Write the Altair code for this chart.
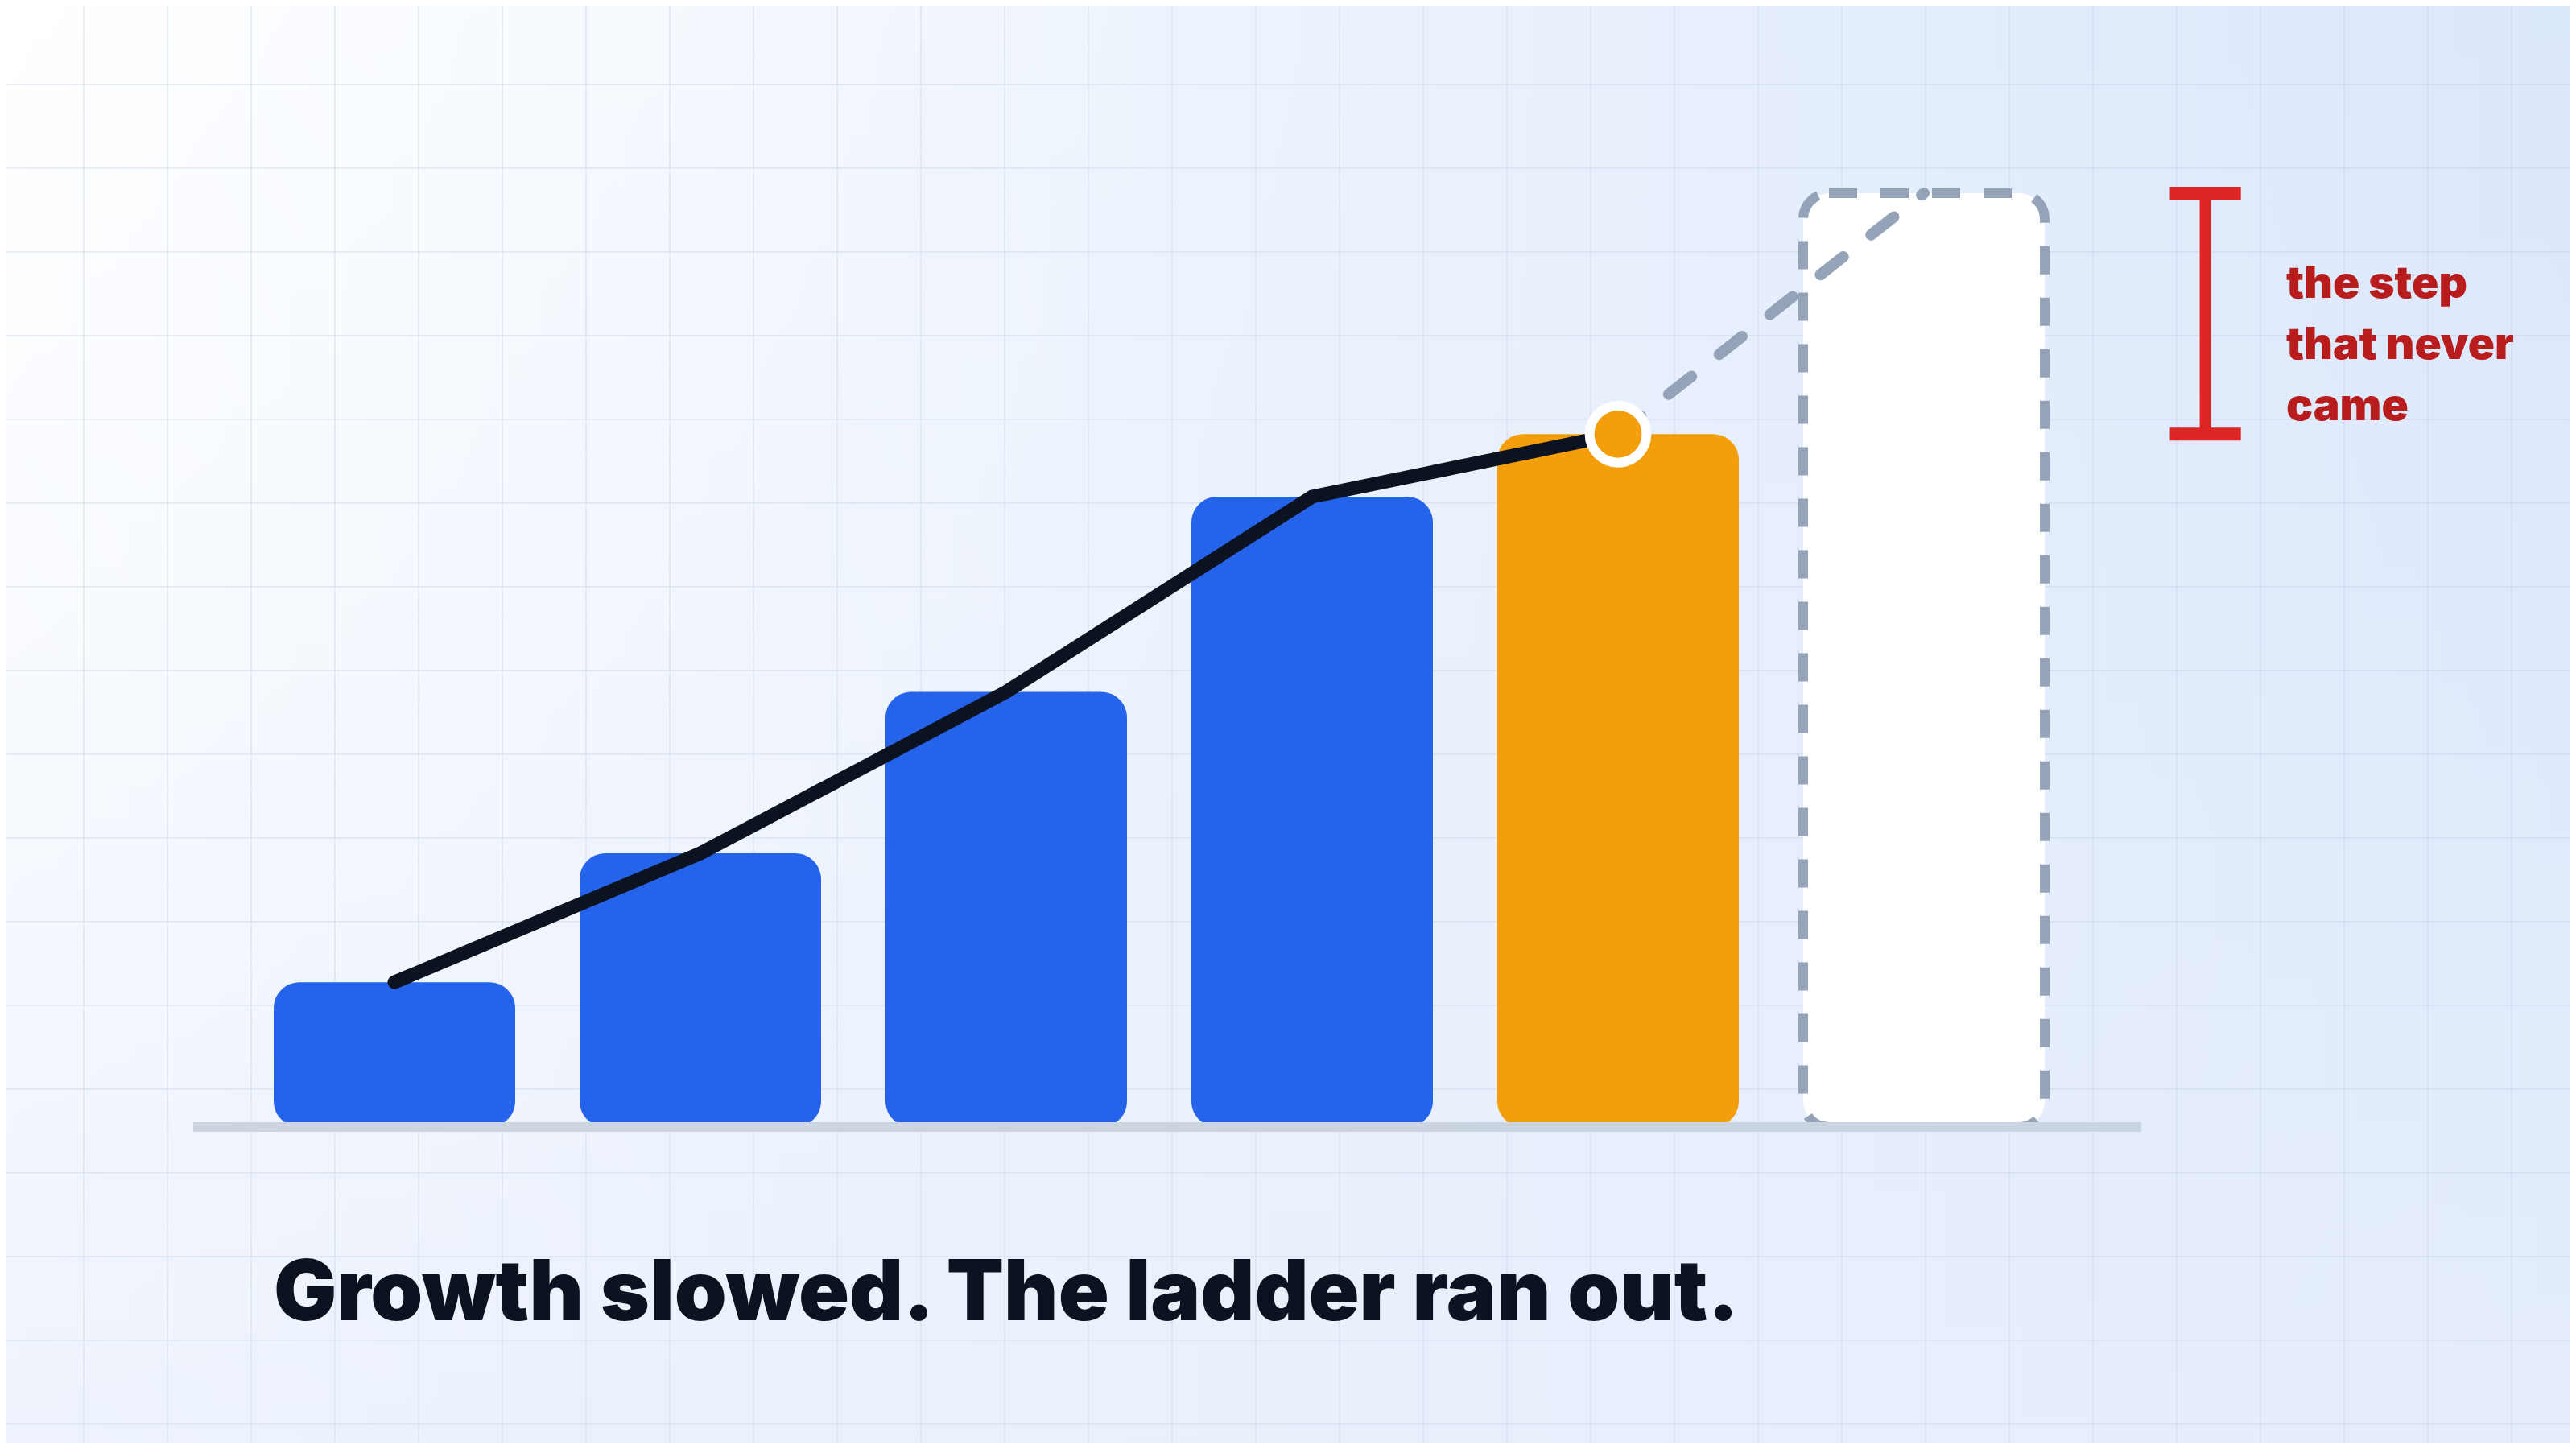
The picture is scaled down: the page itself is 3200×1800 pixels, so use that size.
import altair as alt
import pandas as pd

# ---------------- data ----------------
steps = ["Y1", "Y2", "Y3", "Y4", "Y5"]
values = [15.5, 29.3, 46.6, 67.5, 74.2]
step_kind = ["past", "past", "past", "past", "latest"]
projected_step = "Y6"
projected_value = 100.0
headline = "Growth slowed. The ladder ran out."
note_lines = ["the step", "that never", "came"]

# ---------------- layout / style ----------------
W, H = 3184, 1784
BLUE, ORANGE, INK = "#2563eb", "#f59e0b", "#0b1220"
GHOST = "#94a3b8"
RED, RED_TEXT = "#dc2626", "#b91c1c"

PX_X = 380.0
X_LO = -1.26842
X_HI = X_LO + W / PX_X
Y_LO, Y_HI = -33.793, 120.0
x_scale = alt.Scale(domain=[X_LO, X_HI], range=[0, W], nice=False, zero=False)
y_scale = alt.Scale(domain=[Y_LO, Y_HI], range=[H, 0], nice=False, zero=False)
HALF_BAR = 0.3947
BEAM_X, CAP_HALF = 5.92, 0.116
PX_Y = H / (Y_HI - Y_LO)

one = alt.Data(values=[{"a": 1}])

bars_df = pd.DataFrame({"step": steps, "idx": list(range(len(steps))),
                        "value": values, "kind": step_kind})
ghost_df = pd.DataFrame({"step": [projected_step], "idx": [len(steps)],
                         "value": [projected_value]})
proj_df = pd.DataFrame({"idx": [len(steps) - 1, len(steps)],
                        "value": [values[-1], projected_value]})
beam_df = pd.DataFrame({"bx": [BEAM_X], "lo": [values[-1]], "hi": [projected_value]})
caps_df = pd.DataFrame({"bx": [BEAM_X, BEAM_X], "v": [values[-1], projected_value]})
base_df = pd.DataFrame({"b0": [-0.658], "b1": [5.711], "v": [0.0]})

X = lambda f: alt.X(f, scale=x_scale, axis=None)
Y = lambda f: alt.Y(f, scale=y_scale, axis=None)

# background
bg = alt.Chart(one).mark_rect(
    color=alt.Gradient(gradient="linear", x1=0, y1=0, x2=1, y2=0,
                       stops=[alt.GradientStop(color="#ffffff", offset=0),
                              alt.GradientStop(color="#eef4fd", offset=0.45),
                              alt.GradientStop(color="#dbe7fb", offset=1)])
).encode(x=alt.value(0), x2=alt.value(W), y=alt.value(0), y2=alt.value(H))

bg2 = alt.Chart(one).mark_rect(
    color=alt.Gradient(gradient="linear", x1=0, y1=0, x2=0, y2=1,
                       stops=[alt.GradientStop(color="rgba(232,239,252,0)", offset=0),
                              alt.GradientStop(color="rgba(232,239,252,0.25)", offset=0.4),
                              alt.GradientStop(color="rgba(232,239,252,0.75)", offset=1)])
).encode(x=alt.value(0), x2=alt.value(W), y=alt.value(0), y2=alt.value(H))

grid_v = alt.Chart(alt.sequence(0, 32, as_="k")).transform_calculate(
    gx=f"{X_LO} + (datum.k * 104 - 8) / {PX_X}"
).mark_rule(color="#a9bbd6", strokeWidth=2, opacity=0.2).encode(
    x=X("gx:Q"), y=alt.value(0), y2=alt.value(H))

grid_h = alt.Chart(alt.sequence(0, 18, as_="k")).transform_calculate(
    gy=f"{Y_HI} - (datum.k * 104 - 7) / {PX_Y}"
).mark_rule(color="#a9bbd6", strokeWidth=2, opacity=0.2).encode(
    y=Y("gy:Q"), x=alt.value(0), x2=alt.value(W))

bars = alt.Chart(bars_df).transform_calculate(
    x0=f"datum.idx - {HALF_BAR}", x1=f"datum.idx + {HALF_BAR}", zero="0"
).mark_bar(cornerRadius=32).encode(
    x=X("x0:Q"), x2="x1:Q",
    y=Y("value:Q"), y2="zero:Q",
    color=alt.Color("kind:N", scale=alt.Scale(domain=["past", "latest"], range=[BLUE, ORANGE]),
                    legend=None),
)

ghost = alt.Chart(ghost_df).transform_calculate(
    x0=f"datum.idx - {HALF_BAR}", x1=f"datum.idx + {HALF_BAR}", zero="0"
).mark_bar(cornerRadius=32, fill="#ffffff", stroke=GHOST, strokeWidth=12,
           strokeDash=[35, 29]).encode(
    x=X("x0:Q"), x2="x1:Q",
    y=Y("value:Q"), y2="zero:Q",
)

baseline = alt.Chart(base_df).mark_rule(color="#cbd5e1", strokeWidth=12).encode(
    x=X("b0:Q"), x2="b1:Q", y=Y("v:Q"))

proj_line = alt.Chart(proj_df).mark_line(
    color=GHOST, strokeWidth=14, strokeDash=[36, 44], strokeCap="round"
).encode(x=X("idx:Q"), y=Y("value:Q"))

main_line = alt.Chart(bars_df).mark_line(
    color=INK, strokeWidth=17, strokeCap="round"
).encode(x=X("idx:Q"), y=Y("value:Q"))

dot = alt.Chart(bars_df.tail(1)).mark_point(
    shape="circle", filled=True, fill=ORANGE, stroke="#ffffff", strokeWidth=12,
    size=5000, opacity=1
).encode(x=X("idx:Q"), y=Y("value:Q"))

stem = alt.Chart(beam_df).mark_rule(color=RED, strokeWidth=14).encode(
    x=X("bx:Q"), y=Y("lo:Q"), y2="hi:Q")

caps = alt.Chart(caps_df).transform_calculate(
    c0=f"datum.bx - {CAP_HALF}", c1=f"datum.bx + {CAP_HALF}"
).mark_rule(color=RED, strokeWidth=16).encode(
    x=X("c0:Q"), x2="c1:Q", y=Y("v:Q"))

note = alt.Chart(one).mark_text(
    align="left", baseline="alphabetic", font="Inter", fontWeight=900,
    fontSize=55, lineHeight=76, color=RED_TEXT
).encode(x=alt.value(2832), y=alt.value(362), text=alt.value(note_lines))

title = alt.Chart(one).mark_text(
    align="left", baseline="alphabetic", font="Inter", fontWeight=900,
    fontSize=104, color=INK
).encode(x=alt.value(332), y=alt.value(1632), text=alt.value(headline))

chart = alt.layer(
    bg, bg2, grid_v, grid_h, bars, ghost, baseline, proj_line, main_line, dot,
    stem, caps, note, title
).properties(
    width=W, height=H, padding=0, autosize=alt.AutoSizeParams(type="none")
).configure_view(strokeWidth=0)

chart.save("out.html", embed_options={"renderer": "svg", "actions": False})
